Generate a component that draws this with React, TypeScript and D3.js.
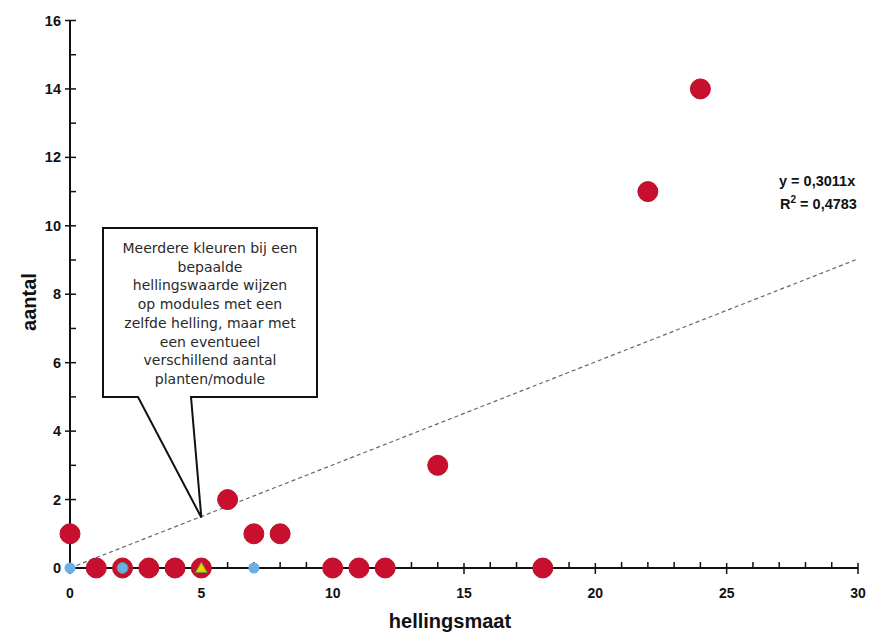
import React from "react";
import * as d3 from "d3";

const redX = [0, 1, 2, 3, 4, 5, 6, 7, 8, 10, 11, 12, 14, 18, 22, 24];
const redY = [1, 0, 0, 0, 0, 0, 2, 1, 1, 0, 0, 0, 3, 0, 11, 14];
const blueX = [0, 2, 7];
const blueY = [0, 0, 0];
const yellowX = [5];
const yellowY = [0];
const slope = 0.3011;
const xTicksMajor = [0, 5, 10, 15, 20, 25, 30];
const yTicksMajor = [0, 2, 4, 6, 8, 10, 12, 14, 16];
const calloutLines = [
  "Meerdere kleuren bij een",
  "bepaalde",
  "hellingswaarde wijzen",
  "op modules met een",
  "zelfde helling, maar met",
  "een eventueel",
  "verschillend aantal",
  "planten/module",
];

const W = 869;
const H = 634;

export default function App() {
  const x = d3.scaleLinear().domain([0, 30]).range([70, 858]);
  const y = d3.scaleLinear().domain([0, 16]).range([568, 20.5]);
  const xMinor = d3.range(0, 31, 1);
  const yMinor = d3.range(0, 17, 1);
  const font = "'Liberation Sans', Arial, sans-serif";
  const red = "#c8102e";
  const blue = "#6aafe6";
  const tri = d3.symbol().type(d3.symbolTriangle).size(60)();

  // callout geometry
  const bx0 = 103, bx1 = 317, by0 = 228, by1 = 397;
  const tipX = x(5), tipY = y(slope * 5) + 1;
  const callout = `M${bx0},${by0} L${bx1},${by0} L${bx1},${by1} L191,${by1} L${tipX},${tipY} L138,${by1} L${bx0},${by1} Z`;

  return (
    <svg width={W} height={H} style={{ position: "absolute", left: 0, top: 0, background: "#fff" }}>
      <rect width={W} height={H} fill="#fff" />
      {/* trend line */}
      <line
        x1={x(0)}
        y1={y(0)}
        x2={x(30)}
        y2={y(slope * 30)}
        stroke="#666"
        strokeWidth={1.2}
        strokeDasharray="4,3"
      />
      {/* axes */}
      <line x1={x(0)} y1={y(16)} x2={x(0)} y2={y(0)} stroke="#111" strokeWidth={2} />
      <line x1={x(0)} y1={y(0)} x2={x(30)} y2={y(0)} stroke="#111" strokeWidth={2} />
      {yMinor.map((v) =>
        v % 2 === 0 ? (
          <line key={"ym" + v} x1={x(0) - 5} x2={x(0) + 6} y1={y(v)} y2={y(v)} stroke="#111" strokeWidth={1.5} />
        ) : (
          <line key={"yn" + v} x1={x(0)} x2={x(0) + 6} y1={y(v)} y2={y(v)} stroke="#111" strokeWidth={1.5} />
        )
      )}
      {xMinor.map((v) =>
        v % 5 === 0 ? (
          <line key={"xm" + v} x1={x(v)} x2={x(v)} y1={y(0) - 5} y2={y(0) + 6} stroke="#111" strokeWidth={1.5} />
        ) : (
          <line key={"xn" + v} x1={x(v)} x2={x(v)} y1={y(0) - 6} y2={y(0)} stroke="#111" strokeWidth={1.5} />
        )
      )}
      {yTicksMajor.map((v) => (
        <text
          key={"yl" + v}
          x={x(0) - 9}
          y={y(v) + 5}
          textAnchor="end"
          fontFamily={font}
          fontWeight="bold"
          fontSize={14.5}
          fill="#111"
        >
          {v}
        </text>
      ))}
      {xTicksMajor.map((v) => (
        <text
          key={"xl" + v}
          x={x(v)}
          y={598}
          textAnchor="middle"
          fontFamily={font}
          fontWeight="bold"
          fontSize={14}
          fill="#111"
        >
          {v}
        </text>
      ))}
      {/* axis titles */}
      <text
        transform={`translate(36,302) rotate(-90)`}
        textAnchor="middle"
        fontFamily={font}
        fontWeight="bold"
        fontSize={20}
        fill="#111"
      >
        aantal
      </text>
      <text x={450} y={628} textAnchor="middle" fontFamily={font} fontWeight="bold" fontSize={20} fill="#111">
        hellingsmaat
      </text>
      {/* equation */}
      <text x={779} y={186} fontFamily={font} fontWeight="bold" fontSize={14.5} fill="#111">
        y = 0,3011x
      </text>
      <text x={780} y={209} fontFamily={font} fontWeight="bold" fontSize={14.5} fill="#111">
        R<tspan dy={-6} fontSize={10}>2</tspan>
        <tspan dy={6}> = 0,4783</tspan>
      </text>
      {/* callout */}
      <path d={callout} fill="#fff" stroke="#111" strokeWidth={2} strokeLinejoin="miter" />
      {calloutLines.map((l, i) => (
        <text
          key={"cl" + i}
          x={(bx0 + bx1) / 2}
          y={253 + i * 18.7}
          textAnchor="middle"
          fontFamily="'DejaVu Sans', sans-serif"
          fontSize={14}
          fill="#2a2a2a"
        >
          {l}
        </text>
      ))}
      {/* points */}
      {redX.map((v, i) => (
        <circle key={"r" + i} cx={x(v)} cy={y(redY[i])} r={10} fill={red} stroke="#b80f2a" strokeWidth={1} />
      ))}
      {blueX.map((v, i) => (
        <circle key={"b" + i} cx={x(v)} cy={y(blueY[i])} r={5.5} fill={blue} stroke={v === 2 ? "#5a9a6a" : "none"} strokeWidth={1} />
      ))}
      {yellowX.map((v, i) => (
        <path
          key={"t" + i}
          d={tri || ""}
          transform={`translate(${x(v)},${y(yellowY[i]) + 1})`}
          fill="#f2d300"
          stroke="#5a9a3a"
          strokeWidth={1}
        />
      ))}
    </svg>
  );
}
